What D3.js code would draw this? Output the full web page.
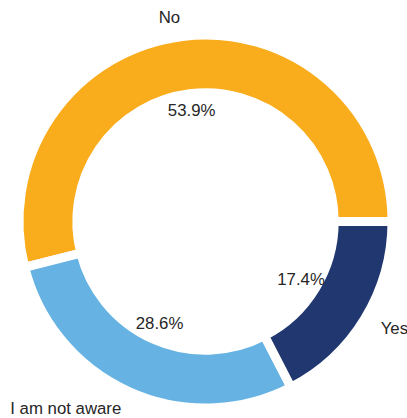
<!DOCTYPE html>
<html>
<head>
<meta charset="utf-8">
<script src="https://cdn.jsdelivr.net/npm/d3@7"></script>
<style>
  html, body { margin: 0; padding: 0; background: #fff; }
  svg { display: block; }
</style>
</head>
<body>
<svg id="chart" width="407" height="418"></svg>
<script>
// Answer shares (percent), drawn counter-clockwise from 3 o'clock
const categories = ["No", "I am not aware", "Yes"];
const values = [53.9, 28.6, 17.4];
const colors = ["#F9AC1C", "#66B3E3", "#213770"];

const width = 407, height = 418;
const cx = 205.5, cy = 221.5;
const outerR = 186.5;
const innerR = outerR * 0.69;
const edge = 9;

const svg = d3.select("#chart");
const g = svg.append("g").attr("transform", `translate(${cx},${cy})`);

// Start at 3 o'clock and sweep counter-clockwise (d3 angles are clockwise from 12)
const pie = d3.pie()
  .sort(null)
  .value(d => d)
  .startAngle(Math.PI / 2)
  .endAngle(Math.PI / 2 - 2 * Math.PI);

const arcs = pie(values);
const arc = d3.arc().innerRadius(innerR).outerRadius(outerR);

g.selectAll("path.slice")
  .data(arcs)
  .join("path")
  .attr("class", "slice")
  .attr("d", arc)
  .attr("fill", (d, i) => colors[i])
  .attr("stroke", "#fff")
  .attr("stroke-width", edge)
  .attr("stroke-linejoin", "miter");

const fontFamily = "'Liberation Sans', Arial, sans-serif";
const textColor = "#262626";

function midAngle(d) { return (d.startAngle + d.endAngle) / 2; }

// Category labels outside the ring
g.selectAll("text.cat")
  .data(arcs)
  .join("text")
  .attr("class", "cat")
  .attr("x", d => Math.sin(midAngle(d)) * outerR * 1.1)
  .attr("y", d => -Math.cos(midAngle(d)) * outerR * 1.1)
  .attr("text-anchor", d => Math.sin(midAngle(d)) > 0 ? "start" : "end")
  .attr("dominant-baseline", "central")
  .attr("font-family", fontFamily)
  .attr("font-size", 16.8)
  .attr("fill", textColor)
  .text((d, i) => categories[i]);

// Percent labels inside the ring
g.selectAll("text.pct")
  .data(arcs)
  .join("text")
  .attr("class", "pct")
  .attr("x", d => Math.sin(midAngle(d)) * outerR * 0.6)
  .attr("y", d => -Math.cos(midAngle(d)) * outerR * 0.6)
  .attr("text-anchor", "middle")
  .attr("dominant-baseline", "central")
  .attr("font-family", fontFamily)
  .attr("font-size", 16.8)
  .attr("fill", textColor)
  .text(d => d.data.toFixed(1) + "%");
</script>
</body>
</html>
